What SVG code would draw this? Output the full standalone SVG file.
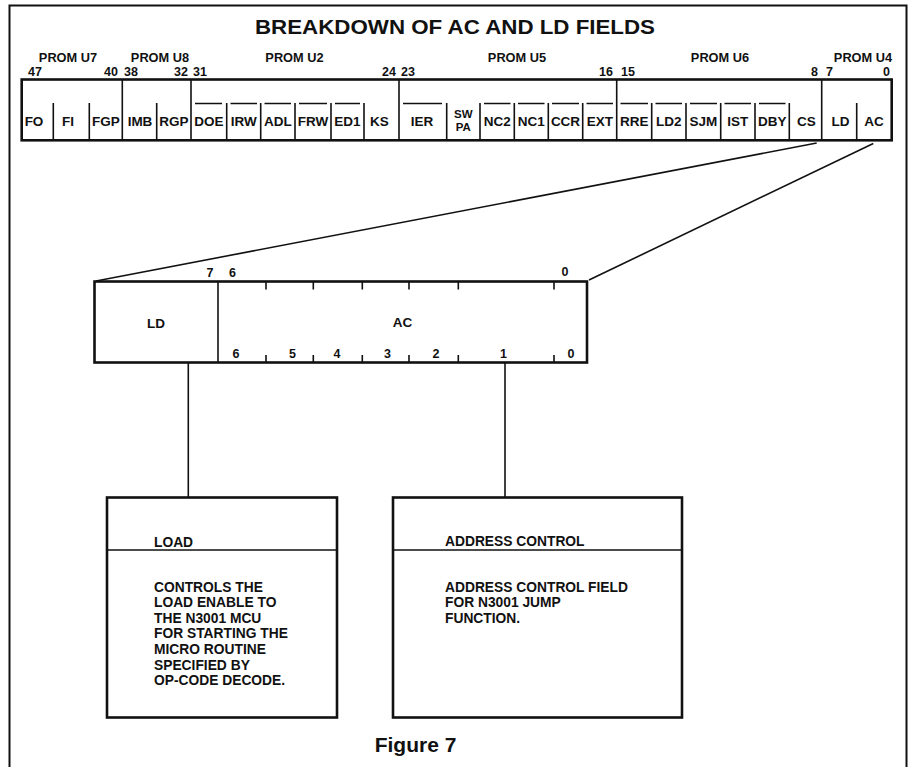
<svg xmlns="http://www.w3.org/2000/svg" width="912" height="767" viewBox="0 0 912 767">
<style>
text { font-family: "Liberation Sans", Arial, Helvetica, sans-serif; font-weight: bold; fill: #111; }
.title { font-size: 21px; }
.hdr { font-size: 12.8px; }
.num { font-size: 12.5px; }
.cell { font-size: 13.5px; text-anchor: middle; }
.sm { font-size: 11.5px; text-anchor: middle; }
.body { font-size: 13.8px; }
.thick { fill: none; stroke: #111; stroke-width: 2.6; }
.thin { fill: none; stroke: #111; stroke-width: 1.6; }
.frame { fill: none; stroke: #111; stroke-width: 2; }
.mid { text-anchor: middle; }
.end { text-anchor: end; }
</style>
<rect x="0" y="0" width="912" height="767" fill="#fff"/>
<path class="frame" d="M9.5 767 V5.5 H906.5 V767"/>
<text class="title mid" x="455" y="34" textLength="400" lengthAdjust="spacingAndGlyphs">BREAKDOWN OF AC AND LD FIELDS</text>

<g id="field-row">
  <g id="headers">
    <text class="hdr mid" x="68" y="62">PROM U7</text>
    <text class="hdr mid" x="160" y="62">PROM U8</text>
    <text class="hdr mid" x="294.5" y="62">PROM U2</text>
    <text class="hdr mid" x="517" y="62">PROM U5</text>
    <text class="hdr mid" x="720" y="62">PROM U6</text>
    <text class="hdr mid" x="863" y="62">PROM U4</text>
    <text class="num" x="28" y="76">47</text>
    <text class="num end" x="118" y="76">40</text>
    <text class="num" x="124" y="76">38</text>
    <text class="num end" x="188" y="76">32</text>
    <text class="num" x="193" y="76">31</text>
    <text class="num end" x="396" y="76">24</text>
    <text class="num" x="401" y="76">23</text>
    <text class="num end" x="613" y="76">16</text>
    <text class="num" x="621" y="76">15</text>
    <text class="num end" x="818" y="76">8</text>
    <text class="num" x="826" y="76">7</text>
    <text class="num end" x="890" y="76">0</text>
  </g>
  <rect class="thick" x="21.7" y="79.5" width="870" height="60.8"/>
  <g id="group-dividers">
    <path class="thin" d="M122.3 79.5V140.3 M191 79.5V140.3 M399 79.5V140.3 M616.7 79.5V140.3 M821.7 79.5V140.3"/>
  </g>
  <g id="cell-dividers">
    <path class="thin" d="M53.3 103V140 M89.3 103V140 M156.7 103V140 M226.7 103V140 M260.7 103V140 M295 103V140 M331 103V140 M364 103V140 M446.7 103V140 M480 103V140 M514.3 103V140 M548.3 103V140 M582.7 103V140 M651.7 103V140 M686 103V140 M720.7 103V140 M755 103V140 M789.3 103V140 M856.7 103V140"/>
  </g>
  <g id="overbars">
    <path class="thin" d="M195 103.5H222 M230.5 103.5H257 M264.5 103.5H291 M299 103.5H327 M335 103.5H360 M403 103.5H442 M484 103.5H510.5 M518 103.5H544.5 M552 103.5H579 M586.5 103.5H613 M620.5 103.5H648 M655.5 103.5H682 M690 103.5H717 M724.5 103.5H751 M759 103.5H785.5"/>
  </g>
  <g id="cell-labels">
    <text class="cell" x="34" y="126">FO</text>
    <text class="cell" x="68" y="126">FI</text>
    <text class="cell" x="105.8" y="126">FGP</text>
    <text class="cell" x="140" y="126">IMB</text>
    <text class="cell" x="174" y="126">RGP</text>
    <text class="cell" x="209" y="126">DOE</text>
    <text class="cell" x="243.7" y="126">IRW</text>
    <text class="cell" x="277.8" y="126">ADL</text>
    <text class="cell" x="313" y="126">FRW</text>
    <text class="cell" x="347.5" y="126">ED1</text>
    <text class="cell" x="379.5" y="126">KS</text>
    <text class="cell" x="422" y="126">IER</text>
    <text class="sm" x="463.3" y="118">SW</text>
    <text class="sm" x="463.3" y="131">PA</text>
    <text class="cell" x="497.2" y="126">NC2</text>
    <text class="cell" x="531.3" y="126">NC1</text>
    <text class="cell" x="565.5" y="126">CCR</text>
    <text class="cell" x="600" y="126">EXT</text>
    <text class="cell" x="634.2" y="126">RRE</text>
    <text class="cell" x="668.8" y="126">LD2</text>
    <text class="cell" x="703.3" y="126">SJM</text>
    <text class="cell" x="737.8" y="126">IST</text>
    <text class="cell" x="772.2" y="126">DBY</text>
    <text class="cell" x="806.5" y="126">CS</text>
    <text class="cell" x="840.5" y="126">LD</text>
    <text class="cell" x="874" y="126">AC</text>
  </g>
</g>

<g id="expanded-field">
  <rect class="thick" x="94.5" y="281.5" width="492.5" height="81"/>
  <path class="thin" d="M218 281.5V362.5"/>
  <path class="thin" d="M266 281.5V289.5 M313.3 281.5V289.5 M362.3 281.5V289.5 M409 281.5V289.5 M458.3 281.5V289.5 M554 281.5V289.5 M266 355V362.5 M313.3 355V362.5 M362.3 355V362.5 M409 355V362.5 M458.3 355V362.5 M554 355V362.5"/>
  <text class="num end" x="213.5" y="277">7</text>
  <text class="num" x="229" y="277">6</text>
  <text class="num mid" x="565" y="276">0</text>
  <text class="cell" x="156" y="328">LD</text>
  <text class="cell" x="402.5" y="327">AC</text>
  <text class="num mid" x="236" y="358">6</text>
  <text class="num mid" x="292.5" y="358">5</text>
  <text class="num mid" x="337" y="358">4</text>
  <text class="num mid" x="387.5" y="358">3</text>
  <text class="num mid" x="436" y="358">2</text>
  <text class="num mid" x="503.5" y="358">1</text>
  <text class="num mid" x="571" y="358">0</text>
</g>

<g id="load-box">
  <rect class="thick" x="107" y="497.5" width="230" height="220"/>
  <path class="thin" d="M107 550H337"/>
  <text class="body" x="154" y="547">LOAD</text>
  <text class="body" x="154" y="591.7">CONTROLS THE</text>
  <text class="body" x="154" y="607.3">LOAD ENABLE TO</text>
  <text class="body" x="154" y="622.8">THE N3001 MCU</text>
  <text class="body" x="154" y="638.4">FOR STARTING THE</text>
  <text class="body" x="154" y="654">MICRO ROUTINE</text>
  <text class="body" x="154" y="669.5">SPECIFIED BY</text>
  <text class="body" x="154" y="685">OP-CODE DECODE.</text>
</g>

<g id="address-control-box">
  <rect class="thick" x="393" y="497.5" width="289" height="220"/>
  <path class="thin" d="M393 550H682"/>
  <text class="body" x="445" y="546">ADDRESS CONTROL</text>
  <text class="body" x="445" y="591.7">ADDRESS CONTROL FIELD</text>
  <text class="body" x="445" y="607.3">FOR N3001 JUMP</text>
  <text class="body" x="445" y="622.8">FUNCTION.</text>
</g>

<g id="connectors">
  <path class="thin" d="M816.7 143 L96 281"/>
  <path class="thin" d="M873.3 143.5 L589 280"/>
  <path class="thin" d="M188.3 363V497.5"/>
  <path class="thin" d="M505 362.5V497.5"/>
</g>

<text class="mid" x="415.5" y="751.5" style="font-size:21px">Figure 7</text>
</svg>
